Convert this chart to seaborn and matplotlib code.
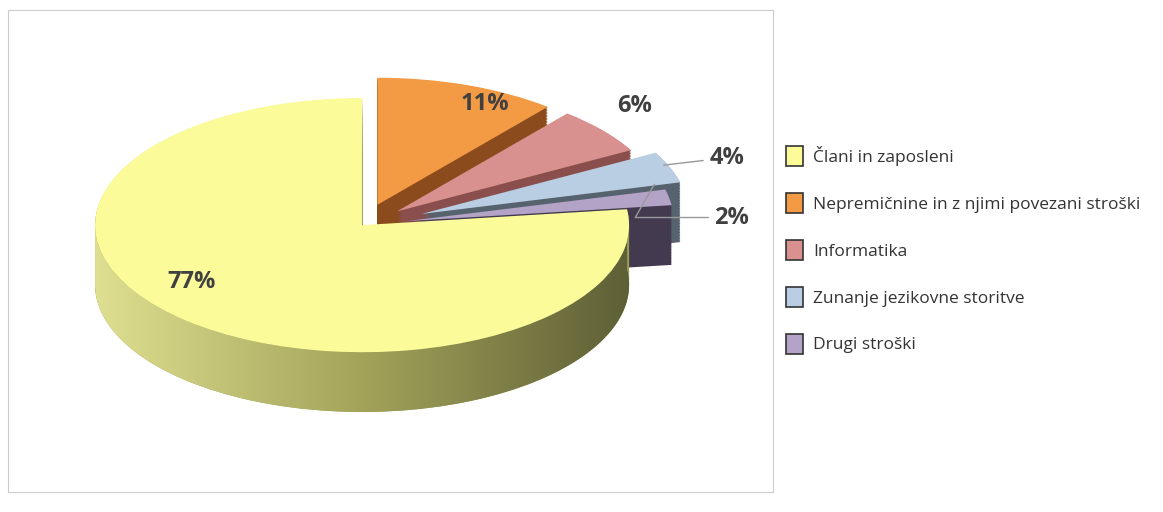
import numpy as np
import matplotlib.pyplot as plt
import matplotlib.colors as mcolors
import matplotlib.patches as mpatches
import seaborn as sns

sns.set_style("white")
plt.rcParams['font.family'] = ['Open Sans', 'DejaVu Sans']

categories = ["Člani in zaposleni", "Nepremičnine in z njimi povezani stroški",
              "Informatika", "Zunanje jezikovne storitve", "Drugi stroški"]
shares = [77, 11, 6, 4, 2]
colors = ["#fbfb9a", "#f39a45", "#d9918f", "#b9cde3", "#b3a3c7"]
side_colors = ["#9a9b55", "#8b4b1d", "#8a4f4c", "#56636f", "#433a4f"]
explode = [0.0, 0.17, 0.17, 0.24, 0.17]

# draw order: clockwise from 12 o'clock, slices after the big one first
order = [1, 2, 3, 4, 0]
vals = [shares[i] for i in order]
ex = [explode[i] for i in order]

fig = plt.figure(figsize=(11.63, 5.12), dpi=100)
ax = fig.add_axes([8 / 1163, 20 / 512, 765 / 1163, 482 / 512])

depth = 0.47
for d in np.linspace(depth, 0.005, 40):
    ax.pie(vals, explode=ex, startangle=90, counterclock=False, center=(0, -d),
           colors=[side_colors[i] for i in order], frame=True,
           wedgeprops=dict(linewidth=0))

# gradient on the front side of the big slice
th = np.radians(np.linspace(180, 367, 200))
top = np.column_stack([np.cos(th), np.sin(th)])
bot = np.column_stack([np.cos(th[::-1]), np.sin(th[::-1]) - depth])
clip = mpatches.Polygon(np.vstack([top, bot]), closed=True, transform=ax.transData,
                        facecolor="none", edgecolor="none")
ax.add_patch(clip)
cmap = mcolors.LinearSegmentedColormap.from_list("side", ["#dedf90", "#a3a35a", "#5e5f36"])
img = ax.imshow(np.linspace(0, 1, 256)[None, :], cmap=cmap, aspect="auto",
                extent=(-1, 1, -1 - depth, 0.2), zorder=2)
img.set_clip_path(clip)

wedges, _ = ax.pie(vals, explode=ex, startangle=90, counterclock=False,
                   colors=[colors[i] for i in order], frame=True,
                   wedgeprops=dict(linewidth=0))
for w in wedges:
    w.set_zorder(3)

# percentage labels
lab = dict(fontsize=17, fontweight="bold", color="#404040", zorder=5)
ax.text(-0.64, -0.45, f"{shares[0]}%", ha="center", va="center", **lab)
ax.text(0.46, 0.95, f"{shares[1]}%", ha="center", va="center", **lab)
ax.text(1.02, 0.94, f"{shares[2]}%", ha="center", va="center", **lab)
ax.annotate(f"{shares[3]}%", xy=(1.12, 0.47), xytext=(1.3, 0.53), ha="left", va="center",
            arrowprops=dict(arrowstyle="-", color="#999999", lw=1), **lab)
ax.annotate(f"{shares[4]}%", xy=(1.1, 0.34), xytext=(1.32, 0.06), ha="left", va="center",
            arrowprops=dict(arrowstyle="-", color="#999999", lw=1,
                            connectionstyle="angle,angleA=0,angleB=60"), **lab)

ax.set_aspect("auto")
ax.set_xlim(-1.326, 1.539)
ax.set_ylim(-2.10, 1.693)
ax.set_xticks([])
ax.set_yticks([])
for s in ax.spines.values():
    s.set_visible(True)
    s.set_color("#cccccc")

handles = [mpatches.Patch(facecolor=c, edgecolor="#333333", linewidth=1.2) for c in colors]
fig.legend(handles, categories, loc="upper left", bbox_to_anchor=(770 / 1163, 1 - 130 / 512),
           frameon=False, fontsize=12.5, labelspacing=1.55, handlelength=1.0,
           handleheight=1.4, handletextpad=0.6, labelcolor="#333333")

fig.savefig("out.png", dpi=100)
